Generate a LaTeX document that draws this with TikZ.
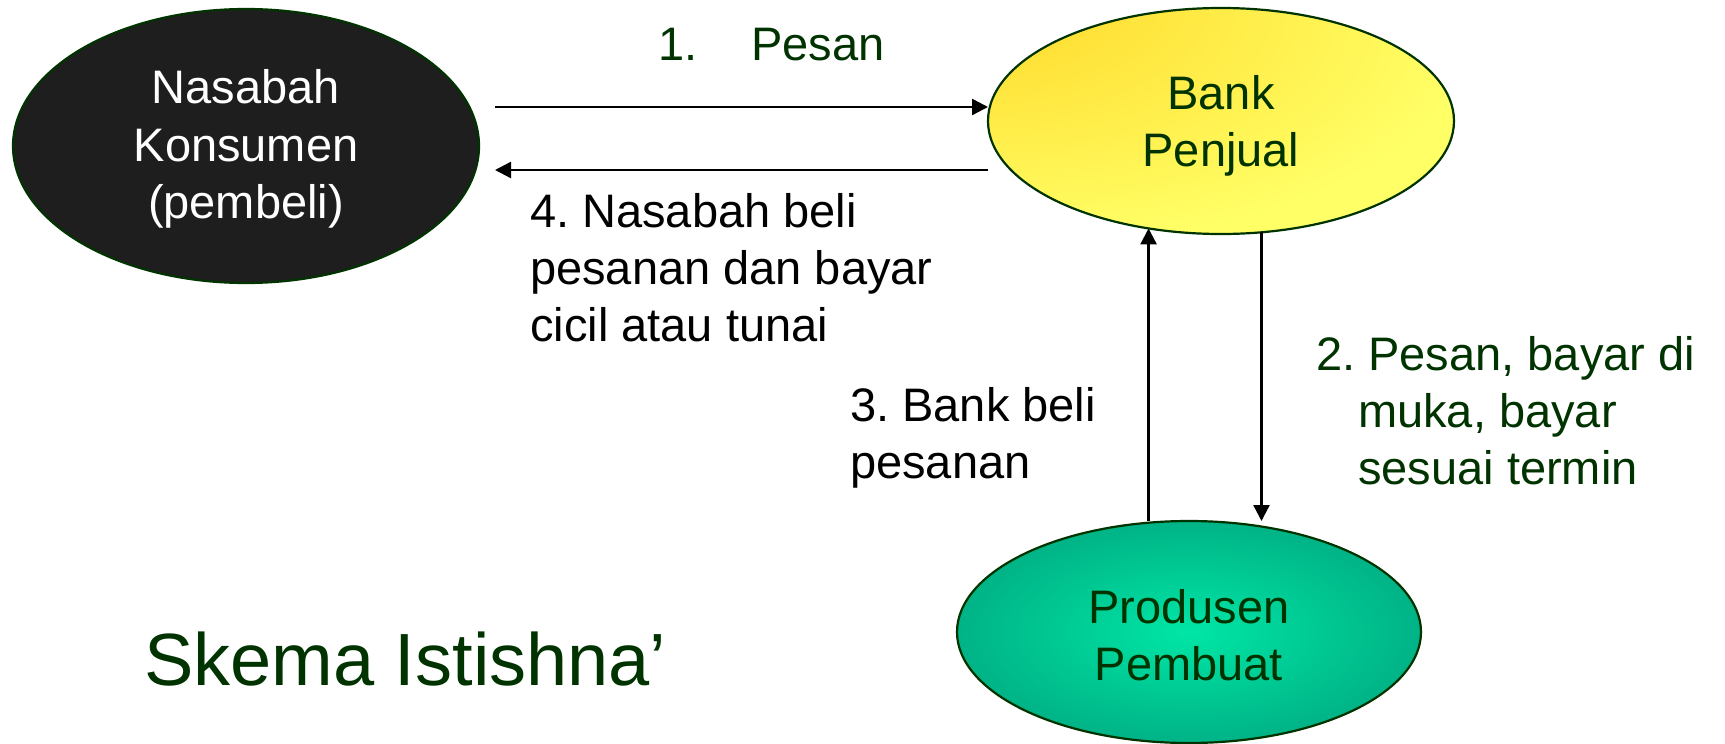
\documentclass[tikz,border=0pt]{standalone}
\usepackage{fontspec}
\setmainfont{Liberation Sans}
\usepackage{xcolor}
\usepackage{tikz}
\usetikzlibrary{shapes.geometric}
\usetikzlibrary{arrows.meta, positioning}
\frenchspacing

\definecolor{darkgreen}{HTML}{003300}
\definecolor{inkblack}{HTML}{1E1E1E}
\definecolor{bankorange}{HTML}{FFD21F}
\definecolor{banklight}{HTML}{FFFF66}
\definecolor{prodlight}{HTML}{00E6A6}
\definecolor{proddark}{HTML}{00B386}

\pgfdeclareradialshading{bankshade}{\pgfpoint{-34bp}{34bp}}{color(0bp)=(bankorange); color(45bp)=(banklight); color(100bp)=(banklight)}

\tikzset{
    party/.style = {ellipse, draw=darkgreen, line width=2.2pt, inner sep=0pt, outer sep=0pt},
    arr/.style = {-{Triangle[length=16pt, width=16pt]}, line width=2.4pt},
    note/.style = {inner sep=0pt, align=left, anchor=base west, font=\fontsize{47}{57}\selectfont},
    inside/.style = {inner sep=0pt, align=center, font=\fontsize{47}{57.5}\selectfont},
}

\begin{document}
\begin{tikzpicture}[x=1pt, y=-1pt]
    \path [fill=white, use as bounding box] (0,0) rectangle (1725,744);

    \node (nasabah) [party, fill=inkblack, minimum width=466pt, minimum height=274pt] at (246,146) {};
    \node (bank) [party, shade, shading=bankshade, minimum width=466pt, minimum height=226pt] at (1221,121) {};
    \node (prod) [party, inner color=prodlight, outer color=proddark, minimum width=464pt, minimum height=222pt] at (1189,632) {};

    \node (nasabahtext) [inside, white] at (246,149) {Nasabah\\Konsumen\\(pembeli)};
    \node (banktext) [inside, darkgreen] at (1221,126) {Bank\\Penjual};
    \node (prodtext) [inside, darkgreen] at (1189,635) {Produsen\\Pembuat};

    \coordinate (pesanstart) at (495,107);
    \coordinate (belitip) at (495,170);
    \draw [arr] (pesanstart) -- (pesanstart -| bank.west);
    \draw [arr] (belitip -| bank.west) -- (belitip);
    \draw [arr] (prod.north -| bank.236.6) -- (bank.236.6);
    \draw [arr] (bank.290.2) -- (bank.290.2 |- prod.north);

    % base anchor sits on the last line
    \node (pesan) [note, darkgreen] at (658,60) {1.\hspace{54pt}Pesan};
    \node (beli) [note] at (530,341) {4. Nasabah beli\\pesanan dan bayar\\cicil atau tunai};
    \node (bankbeli) [note] at (850,478) {3. Bank beli\\pesanan};
    \node (bayar) [note, darkgreen] at (1316,484) {2. Pesan, bayar di\\\hspace*{42pt}muka, bayar\\\hspace*{42pt}sesuai termin};
    \node (judul) [inner sep=0pt, anchor=base west, darkgreen, font=\fontsize{74}{88}\selectfont] at (144,685) {Skema Istishna’};
\end{tikzpicture}
\end{document}
